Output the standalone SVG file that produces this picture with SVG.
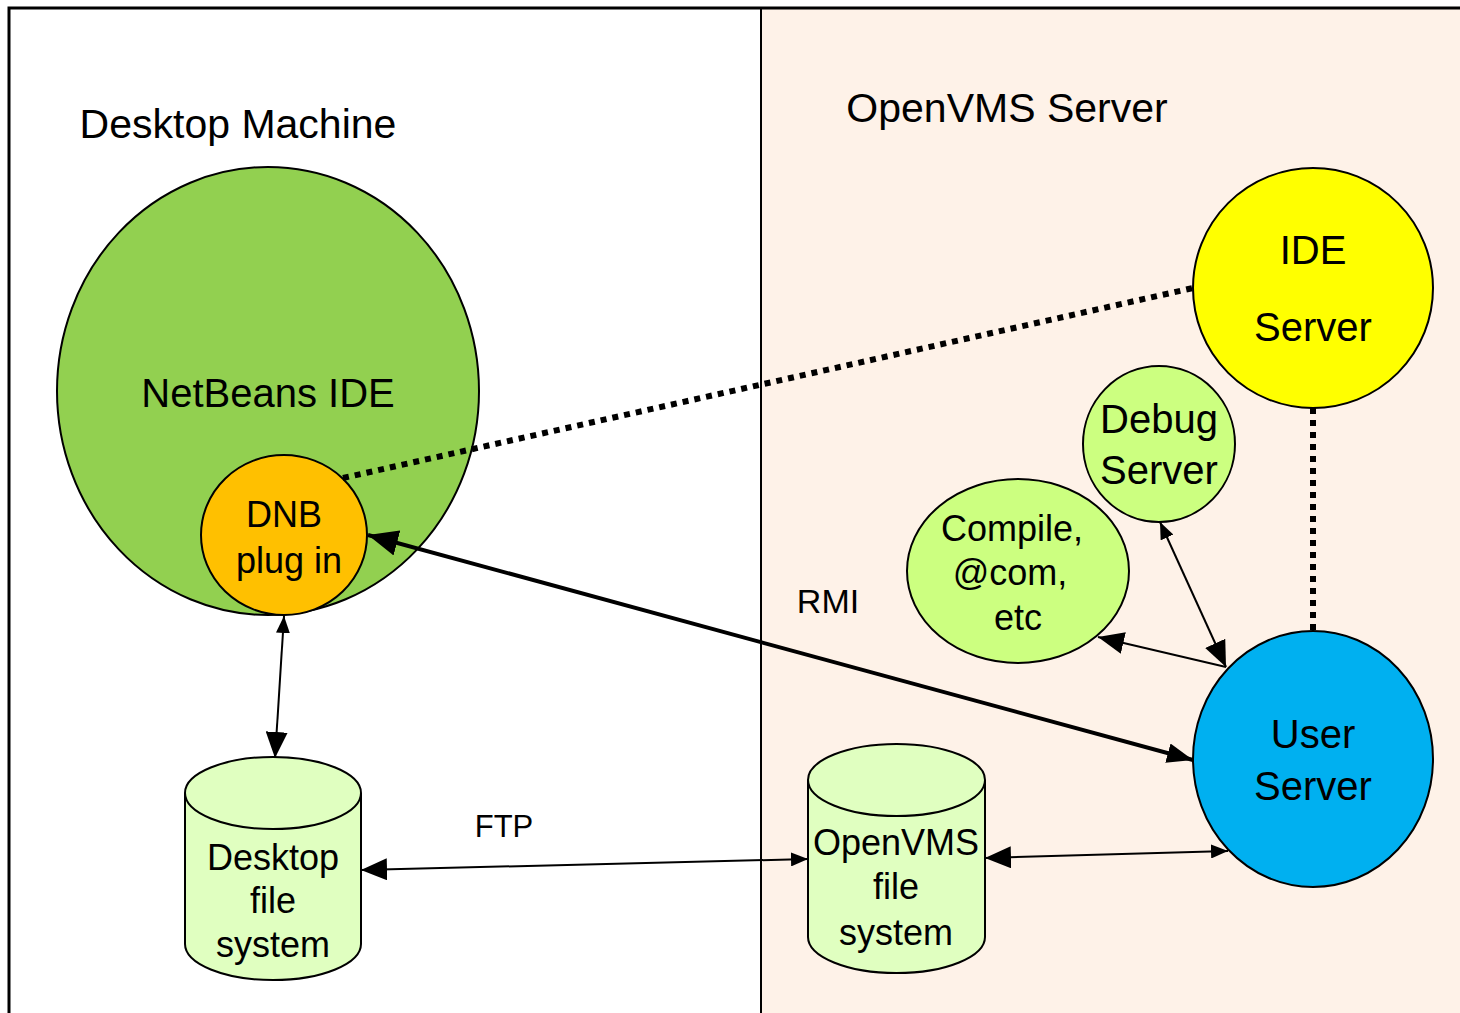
<svg xmlns="http://www.w3.org/2000/svg" width="1460" height="1013" viewBox="0 0 1460 1013">
<style>
text{font-family:"Liberation Sans","DejaVu Sans",sans-serif;fill:#000;text-anchor:middle}
.big{font-size:40px}
.mid{font-size:36px}
.node{stroke:#000;stroke-width:2}
.thin{stroke:#000;stroke-width:2;fill:none}
.dot{stroke:#000;stroke-width:6;stroke-dasharray:6 6;fill:none}
</style>
<defs>
<marker id="ab" viewBox="0 0 26 22" refX="26" refY="11" markerWidth="26" markerHeight="22" markerUnits="userSpaceOnUse" orient="auto-start-reverse"><path d="M0,0 L26,11 L0,22 z" fill="#000"/></marker>
<marker id="as" viewBox="0 0 17 14" refX="17" refY="7" markerWidth="17" markerHeight="14" markerUnits="userSpaceOnUse" orient="auto-start-reverse"><path d="M0,0 L17,7 L0,14 z" fill="#000"/></marker>
<marker id="ar" viewBox="0 0 30 26" refX="30" refY="13" markerWidth="30" markerHeight="26" markerUnits="userSpaceOnUse" orient="auto-start-reverse"><path d="M0,0 L30,13 L0,26 z" fill="#000"/></marker>
<marker id="ar2" viewBox="0 0 26 20" refX="26" refY="10" markerWidth="26" markerHeight="20" markerUnits="userSpaceOnUse" orient="auto-start-reverse"><path d="M0,0 L26,10 L0,20 z" fill="#000"/></marker>
</defs>
<rect x="0" y="0" width="1460" height="1013" fill="#fff"/>
<g id="panels">
<rect x="761" y="8" width="710" height="1020" fill="#FEF2E8"/>
<path d="M9,1013 L9,8 L1460,8" fill="none" stroke="#000" stroke-width="3"/>
<line x1="761" y1="8" x2="761" y2="1013" stroke="#000" stroke-width="2"/>
<text class="big" x="238" y="138" font-size="41" style="font-size:41px">Desktop Machine</text>
<text class="big" x="1007" y="122" style="font-size:41px">OpenVMS Server</text>
</g>
<g id="netbeans">
<ellipse class="node" cx="268" cy="391" rx="211" ry="224" fill="#92D050"/>
<text class="big" x="268" y="407">NetBeans IDE</text>
</g>
<g id="dnb">
<ellipse class="node" cx="284" cy="535" rx="83" ry="80" fill="#FFC000"/>
<text class="mid" x="284" y="527">DNB</text>
<text class="mid" x="289" y="573">plug in</text>
</g>
<g id="ide-server">
<circle class="node" cx="1313" cy="288" r="120" fill="#FFFF00"/>
<text class="big" x="1313" y="264">IDE</text>
<text class="big" x="1313" y="341">Server</text>
</g>
<g id="debug-server">
<ellipse class="node" cx="1159" cy="444" rx="76" ry="78" fill="#CCFF80"/>
<text class="big" x="1159" y="433">Debug</text>
<text class="big" x="1159" y="484">Server</text>
</g>
<g id="compile">
<ellipse class="node" cx="1018" cy="571" rx="111" ry="92" fill="#CCFF80"/>
<text class="mid" x="1012" y="541">Compile,</text>
<text class="mid" x="1010" y="585">@com,</text>
<text class="mid" x="1018" y="630">etc</text>
</g>
<g id="user-server">
<ellipse class="node" cx="1313" cy="759" rx="120" ry="128" fill="#00B0F0"/>
<text class="big" x="1313" y="748">User</text>
<text class="big" x="1313" y="800">Server</text>
</g>
<g id="desktop-fs">
<path class="node" d="M185,793 L185,944 A88,36 0 0 0 361,944 L361,793" fill="#E0FFC0"/>
<ellipse class="node" cx="273" cy="793" rx="88" ry="36" fill="#E0FFC0"/>
<text class="mid" x="273" y="870">Desktop</text>
<text class="mid" x="273" y="913">file</text>
<text class="mid" x="273" y="957">system</text>
</g>
<g id="openvms-fs">
<path class="node" d="M808,780 L808,937 A88.5,36 0 0 0 985,937 L985,780" fill="#E0FFC0"/>
<ellipse class="node" cx="896.5" cy="780" rx="88.5" ry="36" fill="#E0FFC0"/>
<text class="mid" x="896" y="855">OpenVMS</text>
<text class="mid" x="896" y="899">file</text>
<text class="mid" x="896" y="945">system</text>
</g>
<g id="connectors">
<line class="dot" x1="343" y1="478" x2="1193" y2="288"/>
<line class="dot" x1="1313" y1="408" x2="1313" y2="631"/>
<line x1="368" y1="535" x2="1193" y2="760" stroke="#000" stroke-width="4" marker-start="url(#ar)" marker-end="url(#ar2)"/>
<text class="mid" x="828" y="613" style="font-size:34px">RMI</text>
<line class="thin" x1="284" y1="616" x2="275" y2="758" marker-start="url(#as)" marker-end="url(#ab)"/>
<line class="thin" x1="361" y1="870" x2="808" y2="859" marker-start="url(#ab)" marker-end="url(#as)"/>
<text class="mid" x="504" y="837" style="font-size:31px">FTP</text>
<line class="thin" x1="985" y1="858" x2="1228" y2="851" marker-start="url(#ab)" marker-end="url(#as)"/>
<line class="thin" x1="1226" y1="667" x2="1098" y2="637" marker-end="url(#ab)"/>
<line class="thin" x1="1160" y1="522" x2="1226" y2="667" marker-start="url(#as)" marker-end="url(#ab)"/>
</g>
</svg>
